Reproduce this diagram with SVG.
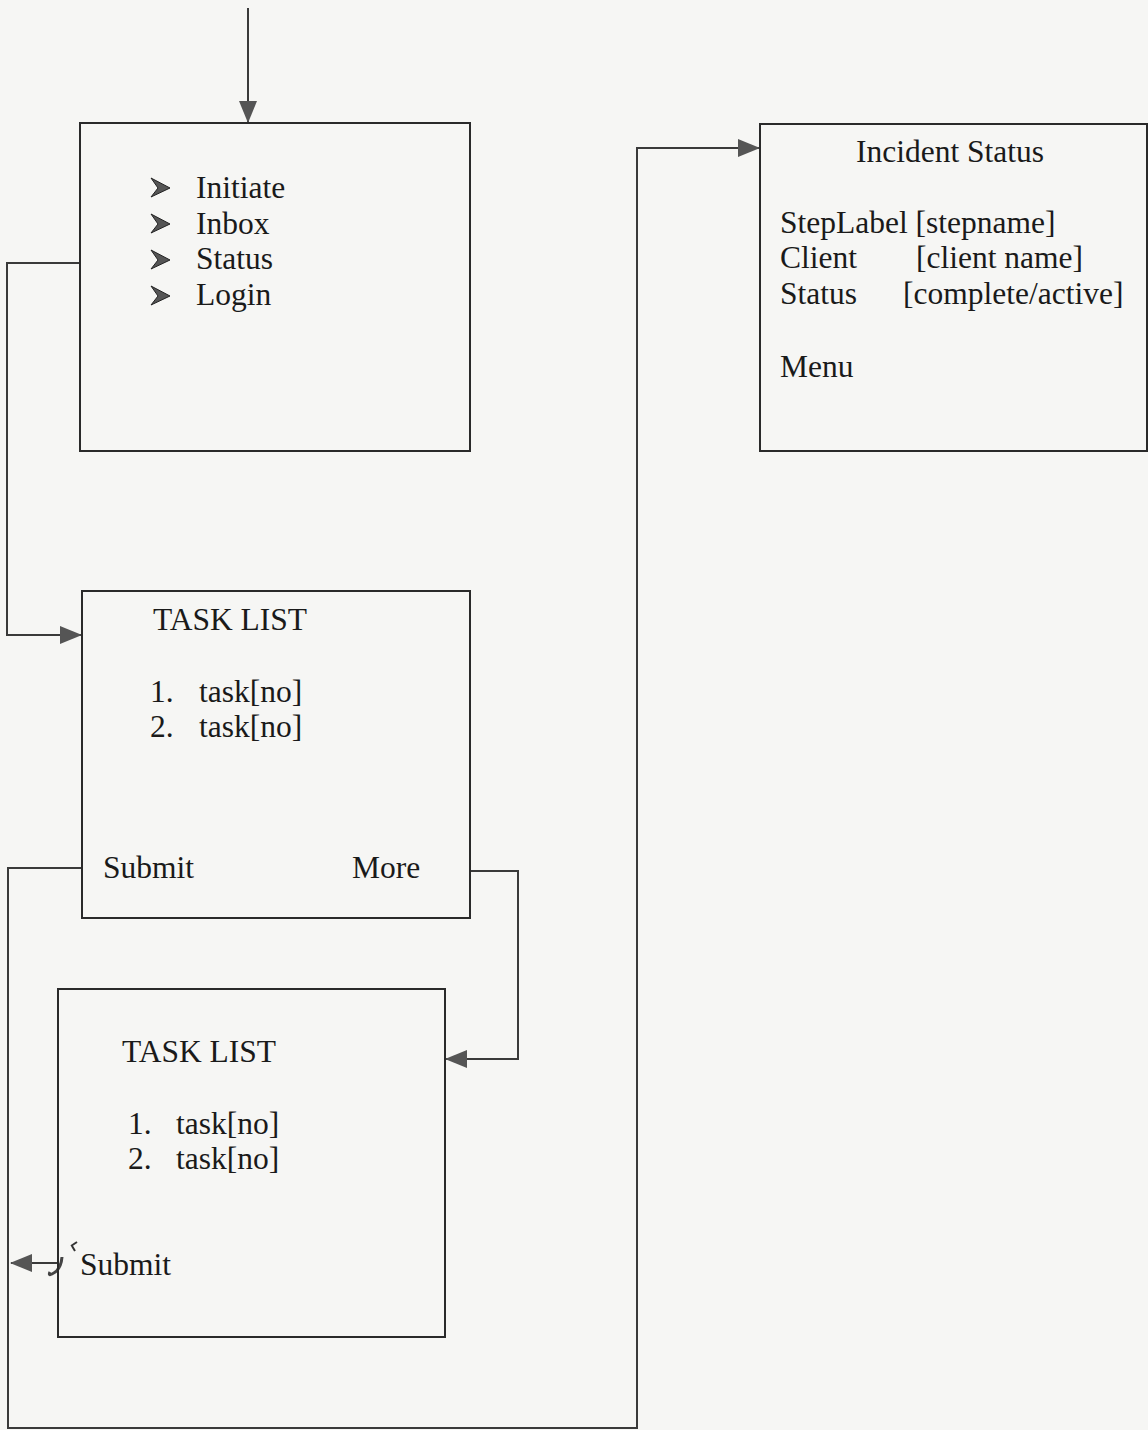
<svg xmlns="http://www.w3.org/2000/svg" width="1148" height="1430" viewBox="0 0 1148 1430">
<style>
.bg{fill:#f6f6f4}
.box{fill:none;stroke:#2a2a2a;stroke-width:2}
.conn{fill:none;stroke:#3a3a3a;stroke-width:2}
.t{font-family:"Liberation Serif","Times New Roman",serif;font-size:31.5px;fill:#1a1a1a}
.bul{fill:#555;stroke:#222;stroke-width:1}
</style>
<defs>
<marker id="ah2" markerWidth="22" markerHeight="18" refX="21" refY="9" orient="auto" markerUnits="userSpaceOnUse" viewBox="0 0 22 18">
<path d="M0,0 L22,9 L0,18 Z" fill="#555"/>
</marker>
</defs>
<rect class="bg" x="0" y="0" width="1148" height="1430"/>

<g id="connectors">
<path class="conn" d="M248,8 L248,122" marker-end="url(#ah2)"/>
<path class="conn" d="M80,263 L7,263 L7,635 L81,635" marker-end="url(#ah2)"/>
<path class="conn" d="M82,868 L8,868 L8,1428 L637,1428 L637,148 L759,148" marker-end="url(#ah2)"/>
<path class="conn" d="M470,871 L518,871 L518,1059 L446,1059" marker-end="url(#ah2)"/>
<path class="conn" d="M58,1263 L11,1263" marker-end="url(#ah2)"/>
<path d="M62,1257 Q61,1270 52,1274 Q48,1276 50,1272" fill="none" stroke="#444" stroke-width="3"/>
<path d="M71,1246 L77,1242 M72,1246 L75,1251" fill="none" stroke="#333" stroke-width="2"/>
</g>

<g id="main-menu">
<rect class="box" x="80" y="123" width="390" height="328"/>
<path class="bul" d="M151,178 L170,188 L151,197 L158,188 Z"/>
<path class="bul" d="M151,214 L170,224 L151,233 L158,224 Z"/>
<path class="bul" d="M151,250 L170,260 L151,269 L158,260 Z"/>
<path class="bul" d="M151,286 L170,296 L151,305 L158,296 Z"/>
<text class="t" x="196" y="198">Initiate</text>
<text class="t" x="196" y="234">Inbox</text>
<text class="t" x="196" y="269">Status</text>
<text class="t" x="196" y="305">Login</text>
</g>

<g id="incident-status">
<rect class="box" x="760" y="124" width="387" height="327"/>
<text class="t" x="856" y="162">Incident Status</text>
<text class="t" x="780" y="233">StepLabel [stepname]</text>
<text class="t" x="780" y="268">Client</text>
<text class="t" x="916" y="268">[client name]</text>
<text class="t" x="780" y="304">Status</text>
<text class="t" x="903" y="304">[complete/active]</text>
<text class="t" x="780" y="377">Menu</text>
</g>

<g id="task-list-1">
<rect class="box" x="82" y="591" width="388" height="327"/>
<text class="t" x="153" y="630">TASK LIST</text>
<text class="t" x="150" y="702">1.</text>
<text class="t" x="199" y="702">task[no]</text>
<text class="t" x="150" y="737">2.</text>
<text class="t" x="199" y="737">task[no]</text>
<text class="t" x="103" y="878">Submit</text>
<text class="t" x="352" y="878">More</text>
</g>

<g id="task-list-2">
<rect class="box" x="58" y="989" width="387" height="348"/>
<text class="t" x="122" y="1062">TASK LIST</text>
<text class="t" x="128" y="1134">1.</text>
<text class="t" x="176" y="1134">task[no]</text>
<text class="t" x="128" y="1169">2.</text>
<text class="t" x="176" y="1169">task[no]</text>
<text class="t" x="80" y="1275">Submit</text>
</g>
</svg>
